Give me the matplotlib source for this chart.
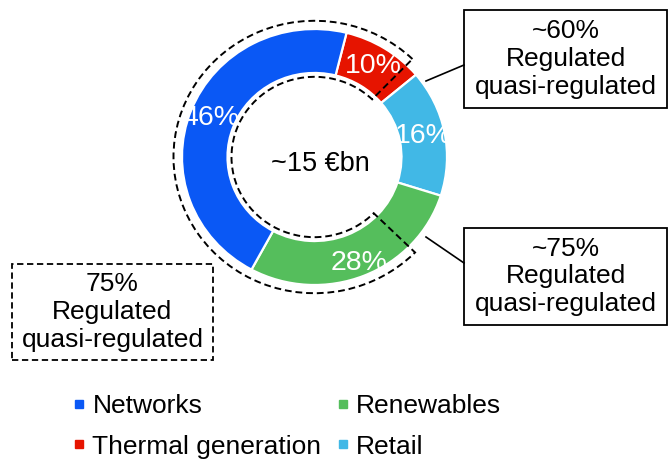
import matplotlib
matplotlib.use('Agg')
import matplotlib.pyplot as plt
from matplotlib.lines import Line2D
from matplotlib.patches import Wedge, Rectangle

plt.rcParams['font.family'] = ['Liberation Sans', 'DejaVu Sans']

# slices, clockwise from the top
labels = ['Thermal generation', 'Retail', 'Renewables', 'Networks']
shares = [10, 16, 28, 46]
colors = ['#E61400', '#41B8E6', '#55BE5C', '#0A58F5']
legend_order = ['Networks', 'Thermal generation', 'Renewables', 'Retail']
total_text = '~15 €bn'
box_texts = ['~60%\nRegulated\nquasi-regulated',
             '~75%\nRegulated\nquasi-regulated',
             '75%\nRegulated\nquasi-regulated']

W, H = 668, 459
SY = 0.966  # the donut in the original is a bit squashed vertically


def P(x, y):
    # pixel position (from top left) -> data coords
    return x, (H - y) / SY


fig = plt.figure(figsize=(W / 100, H / 100), dpi=100)
ax = fig.add_axes([0, 0, 1, 1])

cx, cy = P(314.5, 157)
wedges, _, pcts = ax.pie(shares, colors=colors, startangle=76, counterclock=False,
                         radius=132.5, center=(cx, cy),
                         autopct=lambda p: '%.0f%%' % p, pctdistance=0.84,
                         wedgeprops=dict(width=45.5, edgecolor='white', linewidth=1.6),
                         textprops=dict(color='white', fontsize=20.5))
# the 28% label sits a little further out
tx, ty = pcts[2].get_position()
k = 0.89 / 0.84
pcts[2].set_position((cx + (tx - cx) * k, cy + (ty - cy) * k))

ax.set_aspect('auto')
ax.set_xlim(0, W)
ax.set_ylim(0, H / SY)
ax.axis('off')

# dashed outline of the regulated part
ax.add_patch(Wedge((cx, cy), 141, 46, 315.5, width=58, fill=False,
                   ls=(0, (3.5, 2)), lw=1.4, ec='black', zorder=4))

ax.text(*P(320, 164), total_text, ha='center', va='center', fontsize=19.5)

# callout boxes
boxes = [(464, 10, 667, 108, '-'), (464, 228, 667, 325, '-'), (12, 264, 213, 360, (0, (3.5, 2)))]
for (x0, y0, x1, y1, ls), txt in zip(boxes, box_texts):
    ax.add_patch(Rectangle(P(x0, y1), x1 - x0, (y1 - y0) / SY, fill=False,
                           ec='black', lw=1.3, ls=ls))
    ax.text(*P((x0 + x1) / 2, (y0 + y1) / 2), txt, ha='center', va='center',
            fontsize=19, linespacing=1.2)

for (xa, ya), (xb, yb) in [((426, 81), (464, 65)), ((426, 237), (464, 263))]:
    ax.plot(*zip(P(xa, ya), P(xb, yb)), color='black', lw=1.2)

handles = [Line2D([], [], ls='', marker='s', markersize=6, color=colors[labels.index(l)])
           for l in legend_order]
fig.legend(handles, legend_order, loc='upper left', bbox_to_anchor=(74 / W, 1 - 394 / H),
           ncol=2, frameon=False, fontsize=19, handlelength=0.4, handletextpad=0.3,
           columnspacing=0.6, labelspacing=0.63, borderpad=0, borderaxespad=0)

fig.savefig('out.png', dpi=100)
